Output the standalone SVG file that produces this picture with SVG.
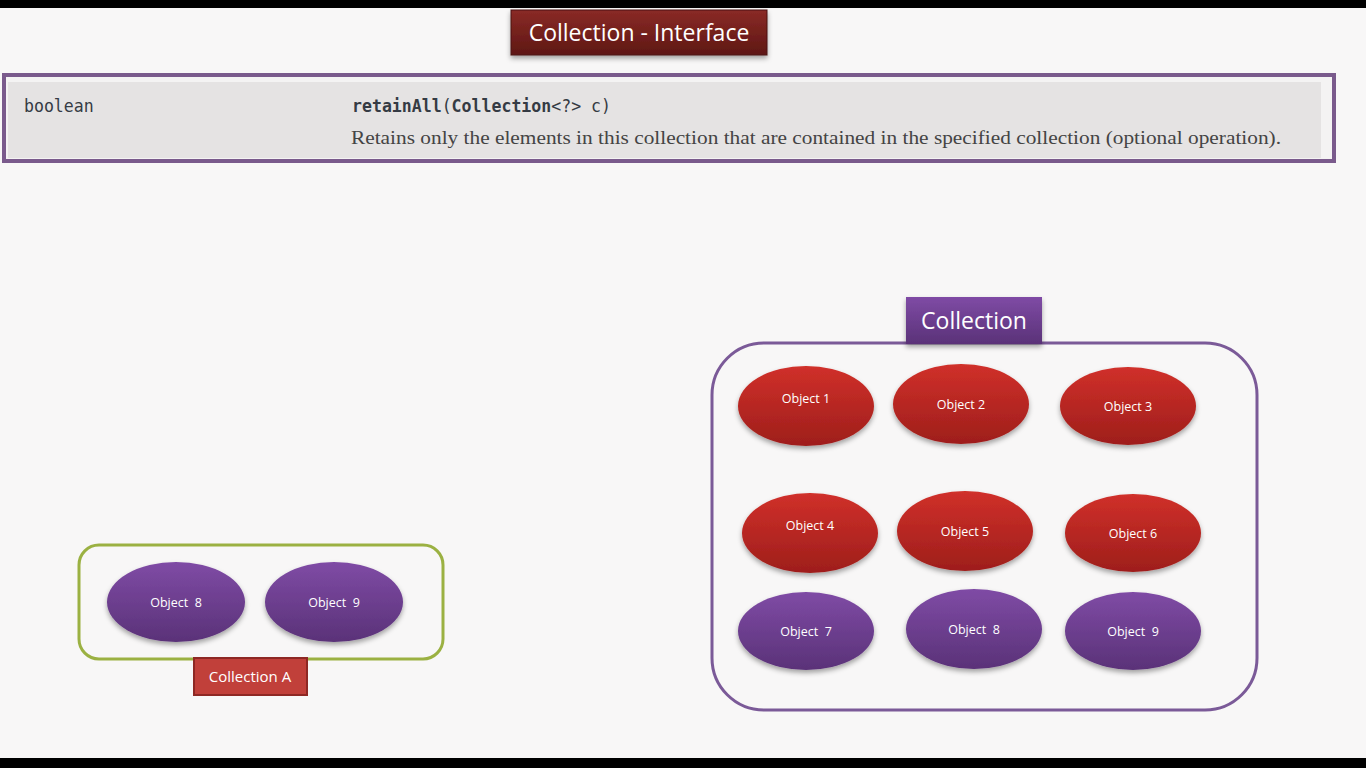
<svg xmlns="http://www.w3.org/2000/svg" width="1366" height="768" viewBox="0 0 1366 768">
<defs>
<linearGradient id="red" x1="0" y1="0" x2="0" y2="1"><stop offset="0" stop-color="#d0302a"/><stop offset="1" stop-color="#9e1e1b"/></linearGradient>
<linearGradient id="purple" x1="0" y1="0" x2="0" y2="1"><stop offset="0" stop-color="#7f4ba5"/><stop offset="1" stop-color="#5a3278"/></linearGradient>
<linearGradient id="darkred" x1="0" y1="0" x2="0" y2="1"><stop offset="0" stop-color="#8a2a26"/><stop offset="1" stop-color="#5e1714"/></linearGradient>
<filter id="sh" x="-20%" y="-20%" width="140%" height="150%"><feGaussianBlur in="SourceAlpha" stdDeviation="2.5"/><feOffset dy="3" result="b"/><feFlood flood-color="#000" flood-opacity="0.35"/><feComposite in2="b" operator="in"/><feMerge><feMergeNode/><feMergeNode in="SourceGraphic"/></feMerge></filter>
<style>
.lbl{font-family:"Open Sans","Liberation Sans",sans-serif;fill:#fff;text-anchor:middle}
.obj{font-size:12.5px}
.mono{font-family:"DejaVu Sans Mono","Liberation Mono",monospace;font-size:18px;fill:#353b44}
</style>
</defs>
<rect width="1366" height="768" fill="#f8f7f7"/>
<rect width="1366" height="8" fill="#000"/>
<rect y="758" width="1366" height="10" fill="#000"/>

<g id="title">
<rect x="511" y="10" width="256" height="45" fill="url(#darkred)" stroke="#4a1210" stroke-width="1" filter="url(#sh)"/>
<text class="lbl" x="639" y="41" font-size="23">Collection - Interface</text>
</g>

<g id="method">
<rect x="6" y="77" width="1327" height="83" fill="#f4f3f3"/>
<rect x="8" y="82" width="1313" height="76" fill="#e5e3e3"/>
<rect x="4" y="75" width="1330" height="86" fill="none" stroke="#7a5a8c" stroke-width="4"/>
<text class="mono" x="24" y="112" transform="translate(24 0) scale(0.92 1) translate(-24 0)">boolean</text>
<text class="mono" x="352" y="112" transform="translate(352 0) scale(0.92 1) translate(-352 0)"><tspan font-weight="bold">retainAll</tspan>(<tspan font-weight="bold">Collection</tspan>&lt;?&gt; c)</text>
<text x="351" y="144" font-family="'Liberation Serif','DejaVu Serif',serif" font-size="19.5" fill="#444" textLength="930" lengthAdjust="spacingAndGlyphs">Retains only the elements in this collection that are contained in the specified collection (optional operation).</text>
</g>

<g id="collection">
<rect x="712" y="343" width="545" height="367" rx="52" fill="none" stroke="#7b5a98" stroke-width="3"/>
<rect x="906" y="297" width="136" height="47" fill="url(#purple)" filter="url(#sh)"/>
<text class="lbl" x="974" y="329" font-size="23">Collection</text>
</g>

<g id="obj1"><ellipse cx="806" cy="406" rx="68" ry="40" fill="url(#red)" filter="url(#sh)"/><text class="lbl obj" x="806" y="403">Object 1</text></g>
<g id="obj2"><ellipse cx="961" cy="404" rx="68" ry="40" fill="url(#red)" filter="url(#sh)"/><text class="lbl obj" x="961" y="409">Object 2</text></g>
<g id="obj3"><ellipse cx="1128" cy="406" rx="68" ry="39" fill="url(#red)" filter="url(#sh)"/><text class="lbl obj" x="1128" y="411">Object 3</text></g>
<g id="obj4"><ellipse cx="810" cy="533" rx="68" ry="40" fill="url(#red)" filter="url(#sh)"/><text class="lbl obj" x="810" y="530">Object 4</text></g>
<g id="obj5"><ellipse cx="965" cy="531" rx="68" ry="40" fill="url(#red)" filter="url(#sh)"/><text class="lbl obj" x="965" y="536">Object 5</text></g>
<g id="obj6"><ellipse cx="1133" cy="533" rx="68" ry="39" fill="url(#red)" filter="url(#sh)"/><text class="lbl obj" x="1133" y="538">Object 6</text></g>
<g id="obj7"><ellipse cx="806" cy="631" rx="68" ry="39" fill="url(#purple)" filter="url(#sh)"/><text class="lbl obj" x="806" y="636">Object&#160; 7</text></g>
<g id="obj8"><ellipse cx="974" cy="629" rx="68" ry="40" fill="url(#purple)" filter="url(#sh)"/><text class="lbl obj" x="974" y="634">Object&#160; 8</text></g>
<g id="obj9"><ellipse cx="1133" cy="631" rx="68" ry="39" fill="url(#purple)" filter="url(#sh)"/><text class="lbl obj" x="1133" y="636">Object&#160; 9</text></g>

<g id="collectionA">
<rect x="79" y="545" width="364" height="114" rx="20" fill="none" stroke="#9bb142" stroke-width="3"/>
<rect x="194" y="658" width="113" height="37" fill="#c1403a" stroke="#8e2824" stroke-width="2"/>
<text class="lbl" x="250" y="682" font-size="15">Collection A</text>
</g>
<g id="a8"><ellipse cx="176" cy="602" rx="69" ry="40" fill="url(#purple)" filter="url(#sh)"/><text class="lbl obj" x="176" y="607">Object&#160; 8</text></g>
<g id="a9"><ellipse cx="334" cy="602" rx="69" ry="40" fill="url(#purple)" filter="url(#sh)"/><text class="lbl obj" x="334" y="607">Object&#160; 9</text></g>
<g id="connectors"/>
</svg>
